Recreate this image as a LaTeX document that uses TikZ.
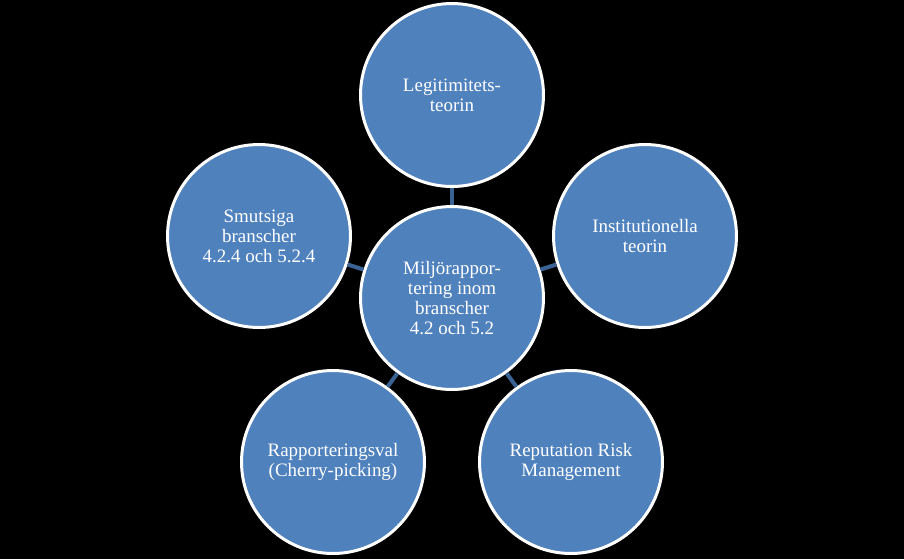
\documentclass[tikz,border=0pt]{standalone}
\usepackage{fontspec}
\setmainfont{Liberation Serif}
\definecolor{bubble}{HTML}{4F81BD}
\definecolor{link}{HTML}{3A6393}
\tikzset{
  bubble/.style={circle, fill=bubble, draw=white, line width=1.7pt,
    minimum size=3.66cm, inner sep=0pt, align=center, text=white,
    font=\fontsize{10.8pt}{11.4pt}\selectfont},
  link/.style={draw=link, line width=2.3pt}
}
\begin{document}
\begin{tikzpicture}[x=0.02cm, y=-0.02cm]
  \fill[black] (0,0) rectangle (904,559);
  \useasboundingbox (0,0) rectangle (904,559);
  \node[bubble] (c)  at (452,298) {Miljörappor-\\tering inom\\branscher\\4.2 och 5.2};
  \node[bubble] (t)  at (452,95)  {Legitimitets-\\teorin};
  \node[bubble] (r)  at (645,236) {Institutionella\\teorin};
  \node[bubble] (br) at (571,462) {Reputation Risk\\Management};
  \node[bubble] (bl) at (333,462) {Rapporteringsval\\(Cherry-picking)};
  \node[bubble] (l)  at (259,236) {Smutsiga\\branscher\\4.2.4 och 5.2.4};
  \foreach \n in {t,r,br,bl,l} \draw[link] (c) -- (\n);
\end{tikzpicture}
\end{document}
